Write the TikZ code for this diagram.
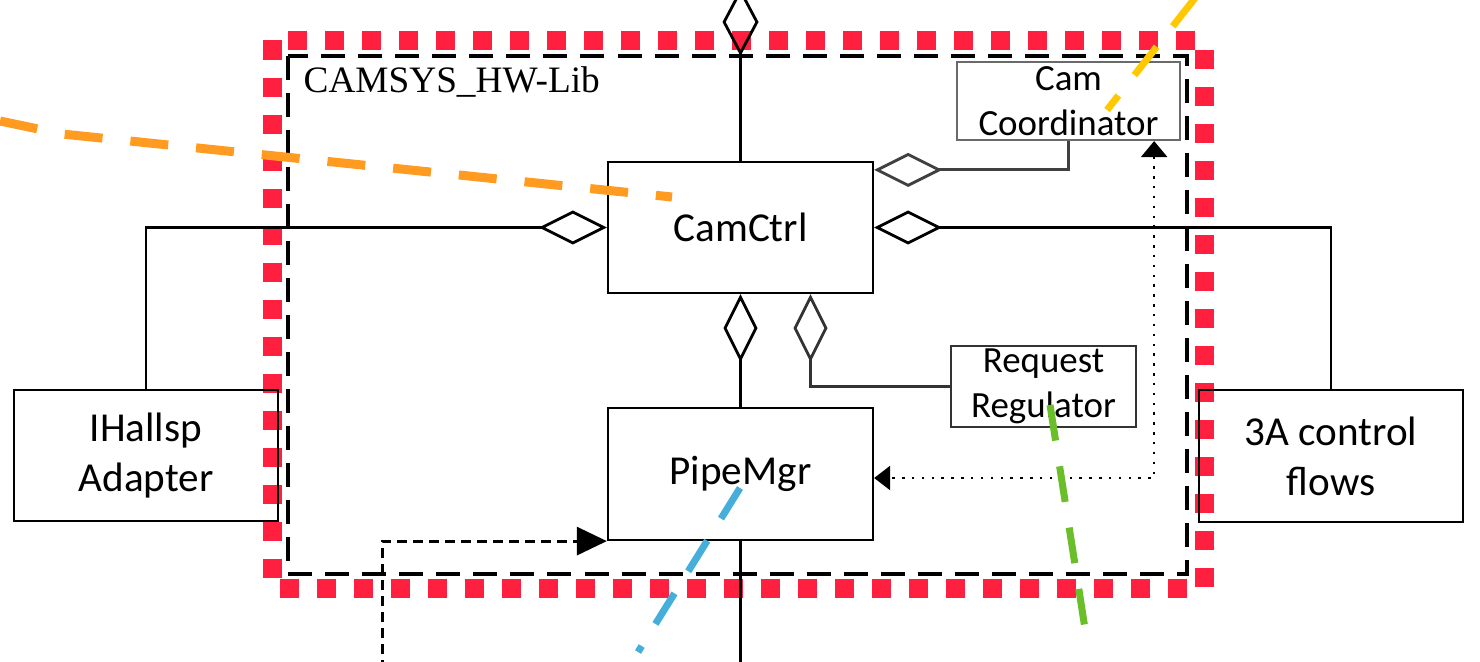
\documentclass[tikz,border=0pt]{standalone}
\usepackage{fontspec}
\setmainfont{Carlito}
\newfontfamily\libfont{Liberation Serif}
\usepackage{tikz}
\usetikzlibrary{calc,arrows.meta}
\definecolor{ink}{HTML}{000000}
\definecolor{soft}{HTML}{6A6A6A}
\definecolor{redmark}{HTML}{FF2040}
\definecolor{orangemark}{HTML}{FF9B21}
\definecolor{yellowmark}{HTML}{FFC800}
\definecolor{bluemark}{HTML}{46AEDA}
\definecolor{greenmark}{HTML}{6ABE2A}
\newcommand{\bigboxfont}{\fontsize{11.7pt}{14.2pt}\selectfont}
\newcommand{\smallboxfont}{\fontsize{10.5pt}{12.8pt}\selectfont}
\tikzset{
  cls/.style={draw=ink, line width=0.6pt, inner sep=0pt, align=center, text=ink, font=\bigboxfont},
  clssmall/.style={cls, font=\smallboxfont},
  conn/.style={draw=ink, line width=0.8pt, line join=miter},
  agg/.style={conn, -{Diamond[open, length=0.68cm, width=0.34cm]}},
  redframe/.style={draw=redmark, line width=0.19cm, dash pattern=on 0.19cm off 0.18cm},
  libframe/.style={draw=ink, line width=1pt, dash pattern=on 0.24cm off 0.13cm},
  dotarr/.style={draw=ink, line width=0.7pt, dash pattern=on 0.7pt off 2.1pt,
    {Triangle[length=0.16cm, width=0.26cm]}-{Triangle[length=0.16cm, width=0.24cm]}},
  dasharr/.style={draw=ink, line width=0.85pt, dash pattern=on 0.1cm off 0.06cm,
    -{Triangle[length=0.3cm, width=0.28cm]}},
  reviewmark/.style={line width=0.07cm, dash pattern=on 0.36cm off 0.26cm},
}
\begin{document}
\begin{tikzpicture}[x=0.01cm, y=-0.01cm]
  \useasboundingbox (0,0) rectangle (1480,661);
  % frames
  \draw[redframe] (272.5,40.5) rectangle (1204,588.5);
  \draw[libframe] (288,56) rectangle (1187,574);
  \node[anchor=base west, inner sep=0pt, font=\libfont\fontsize{10.6pt}{12pt}\selectfont] (libname) at (303,93) {CAMSYS\_HW-Lib};
  % classes
  \node[cls, minimum width=2.65cm, minimum height=1.31cm] (camctrl) at (740.5,227.5) {CamCtrl};
  \node[cls, minimum width=2.65cm, minimum height=1.32cm] (pipemgr) at (740.5,474) {PipeMgr};
  \node[clssmall, draw=soft, minimum width=2.23cm, minimum height=0.78cm] (camcoord) at (1068.5,101) {Cam\\Coordinator};
  \node[clssmall, draw=ink!80, minimum width=1.85cm, minimum height=0.81cm] (reqreg) at (1043.5,386.5) {Request\\Regulator};
  \node[cls, minimum width=2.64cm, minimum height=1.31cm] (adapter) at (146,455.5) {IHallsp\\Adapter};
  \node[cls, minimum width=2.64cm, minimum height=1.32cm] (ctrlflows) at (1331,456) {3A control\\flows};
  % aggregations
  \coordinate (topin) at (740.5,-12);
  \coordinate (ccin) at ($(camctrl.north east)+(0,9)$);
  \coordinate (rrin) at ($(camctrl.south)+(70,0)$);
  \draw[conn, {Diamond[open, length=0.68cm, width=0.36cm]}-] (topin) -- (camctrl.north);
  \draw[agg] (adapter.north) |- (camctrl.west);
  \draw[agg] (ctrlflows.north) |- (camctrl.east);
  \draw[agg, draw=ink!75] (camcoord.south) |- (ccin);
  \draw[agg] (pipemgr.north) -- (camctrl.south);
  \draw[agg, draw=ink!80] (reqreg.west) -| (rrin);
  % dependencies
  \coordinate (ccdep) at ($(camcoord.south east)+(-27,0)$);
  \coordinate (pmdep) at ($(pipemgr.east)+(0,4)$);
  \coordinate (dsrc) at (382,670);
  \coordinate (pmout) at (740.5,670);
  \draw[dotarr] (ccdep) |- (pmdep);
  \draw[dasharr] (dsrc) |- (pipemgr.south west);
  \draw[conn] (pipemgr.south) -- (pmout);
  % review marks
  \draw[reviewmark, orangemark, line width=0.09cm, dash pattern=on 0.38cm off 0.28cm] (0,121) -- (62,134) -- (672,197);
  \draw[reviewmark, yellowmark] (1195,-2) -- (1107,110);
  \draw[reviewmark, bluemark] (740,488) -- (638,652);
  \draw[reviewmark, greenmark] (1050,405) -- (1088,648);
\end{tikzpicture}
\end{document}
